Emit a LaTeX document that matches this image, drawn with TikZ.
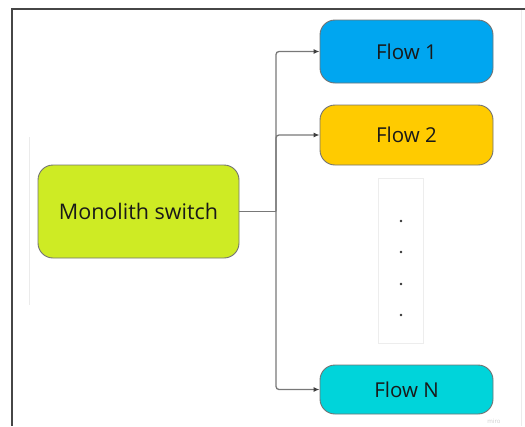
\documentclass[tikz,border=0pt]{standalone}
\usepackage{fontspec}
\setmainfont{Open Sans}
\usetikzlibrary{arrows.meta}
\definecolor{flowblue}{RGB}{0,166,240}
\definecolor{flowyellow}{RGB}{255,203,0}
\definecolor{flowcyan}{RGB}{0,212,218}
\definecolor{monolime}{RGB}{206,235,36}
\definecolor{linkgray}{RGB}{120,120,120}
\definecolor{framegray}{RGB}{70,70,70}
\tikzset{
  box/.style={draw=black!55, line width=0.9pt, rounded corners=15pt, inner sep=0pt,
              text=black!90, font=\fontsize{20.5}{24}\selectfont},
  flowbox/.style={box, minimum width=173pt},
  link/.style={draw=linkgray, line width=1.3pt, rounded corners=3pt},
  linkarrow/.style={link, -{Latex[length=6pt,width=5pt,color=black!75]}},
}

\begin{document}
\begin{tikzpicture}[x=1pt,y=-1pt]
  \useasboundingbox (0,0) rectangle (525,426);

  \draw[framegray, line width=2pt] (525,9) -- (12,9) -- (12,426);
  \draw[black!8, line width=1pt] (521,10) -- (521,426);
  \draw[black!8, line width=1pt] (29,137) -- (29,305);

  \node[box, fill=monolime, minimum width=201pt, minimum height=93pt,
        font=\fontsize{21.5}{26}\selectfont] (mono) at (138.5,211.5) {Monolith switch};

  \node[flowbox, fill=flowblue, minimum height=63pt] (flow1) at (406.5,51.5) {Flow 1};
  \node[flowbox, fill=flowyellow, minimum height=60pt] (flow2) at (406.5,135) {Flow 2};
  \node[flowbox, fill=flowcyan, minimum height=49pt] (flowN) at (406.5,389.5) {Flow N};

  \node[draw=black!7, line width=1pt, minimum width=45pt, minimum height=165pt] (gap) at (401,260.5) {};
  \foreach \y in {221,252,284,315}
    \fill[black!80] (401,\y) circle (1.3pt);

  \coordinate (split) at (276,211.5);
  \draw[link] (mono.east) -- (split);
  \draw[linkarrow] (split) |- (flow1.west);
  \draw[linkarrow] (split) |- (flow2.west);
  \draw[linkarrow] (split) |- (flowN.west);

  \node[text=black!20, font=\fontsize{6}{7}\selectfont] (miro) at (494,421) {miro};
\end{tikzpicture}
\end{document}
